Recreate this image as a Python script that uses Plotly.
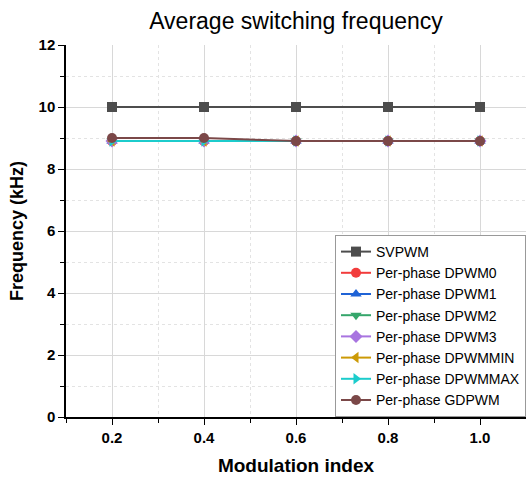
import plotly.graph_objects as go

m = [0.2, 0.4, 0.6, 0.8, 1.0]
series_names = ["SVPWM", "Per-phase DPWM0", "Per-phase DPWM1", "Per-phase DPWM2",
                "Per-phase DPWM3", "Per-phase DPWMMIN", "Per-phase DPWMMAX", "Per-phase GDPWM"]
svpwm = [10.0, 10.0, 10.0, 10.0, 10.0]
dpwm0 = [8.9, 8.9, 8.9, 8.9, 8.9]
dpwm1 = [8.9, 8.9, 8.9, 8.9, 8.9]
dpwm2 = [8.9, 8.9, 8.9, 8.9, 8.9]
dpwm3 = [8.9, 8.9, 8.9, 8.9, 8.9]
dpwmmin = [8.9, 8.9, 8.9, 8.9, 8.9]
dpwmmax = [8.9, 8.9, 8.9, 8.9, 8.9]
gdpwm = [9.0, 9.0, 8.9, 8.9, 8.9]
values = [svpwm, dpwm0, dpwm1, dpwm2, dpwm3, dpwmmin, dpwmmax, gdpwm]

colors = ["#4d4d4d", "#f23c3c", "#1f63d6", "#35a66b", "#a874e0", "#cc9a06", "#1ccccc", "#7b4848"]
symbols = ["square", "circle", "triangle-up", "triangle-down", "diamond",
           "triangle-left", "triangle-right", "circle"]

fig = go.Figure()
for name, vals, c, s in zip(series_names, values, colors, symbols):
    fig.add_trace(go.Scatter(x=m, y=vals, name=name, mode="lines+markers",
                             line=dict(color=c, width=2),
                             marker=dict(symbol=s, size=10, color=c)))

fig.update_layout(
    width=526, height=481,
    margin=dict(l=66, r=0, t=45, b=64),
    plot_bgcolor="white", paper_bgcolor="white",
    font=dict(family="Liberation Sans, Arial, sans-serif", color="black"),
    title=dict(text="Average switching frequency", x=0.5, xref="paper", xanchor="center",
               y=1 - 21 / 481, yref="container", yanchor="middle",
               font=dict(size=23, color="black")),
    legend=dict(x=1, y=0, xanchor="right", yanchor="bottom",
                bordercolor="#999999", borderwidth=1, bgcolor="white",
                font=dict(size=14), tracegroupgap=0, itemwidth=30),
    xaxis=dict(range=[0.1, 1.1], tick0=0.2, dtick=0.2, tickformat=".1f",
               showline=True, linecolor="black", linewidth=1.5,
               ticks="outside", ticklen=6, tickcolor="black",
               showgrid=True, gridcolor="#d8d8d8", gridwidth=1, zeroline=False,
               tickfont=dict(size=15, family="Liberation Sans, Arial", weight="bold"),
               title=dict(text="<b>Modulation index</b>", font=dict(size=19), standoff=14),
               minor=dict(dtick=0.1, tick0=0.1, ticks="outside", ticklen=4, tickcolor="black",
                          showgrid=True, gridcolor="#e3e3e3", griddash="dot")),
    yaxis=dict(range=[0, 12], dtick=2,
               showline=True, linecolor="black", linewidth=1.5,
               ticks="outside", ticklen=6, tickcolor="black",
               showgrid=True, gridcolor="#d8d8d8", gridwidth=1, zeroline=False,
               tickfont=dict(size=15, family="Liberation Sans, Arial", weight="bold"),
               title=dict(text="<b>Frequency (kHz)</b>", font=dict(size=18), standoff=10),
               minor=dict(dtick=1, ticks="outside", ticklen=4, tickcolor="black",
                          showgrid=True, gridcolor="#e3e3e3", griddash="dot")),
)

fig.write_html("out.html")
